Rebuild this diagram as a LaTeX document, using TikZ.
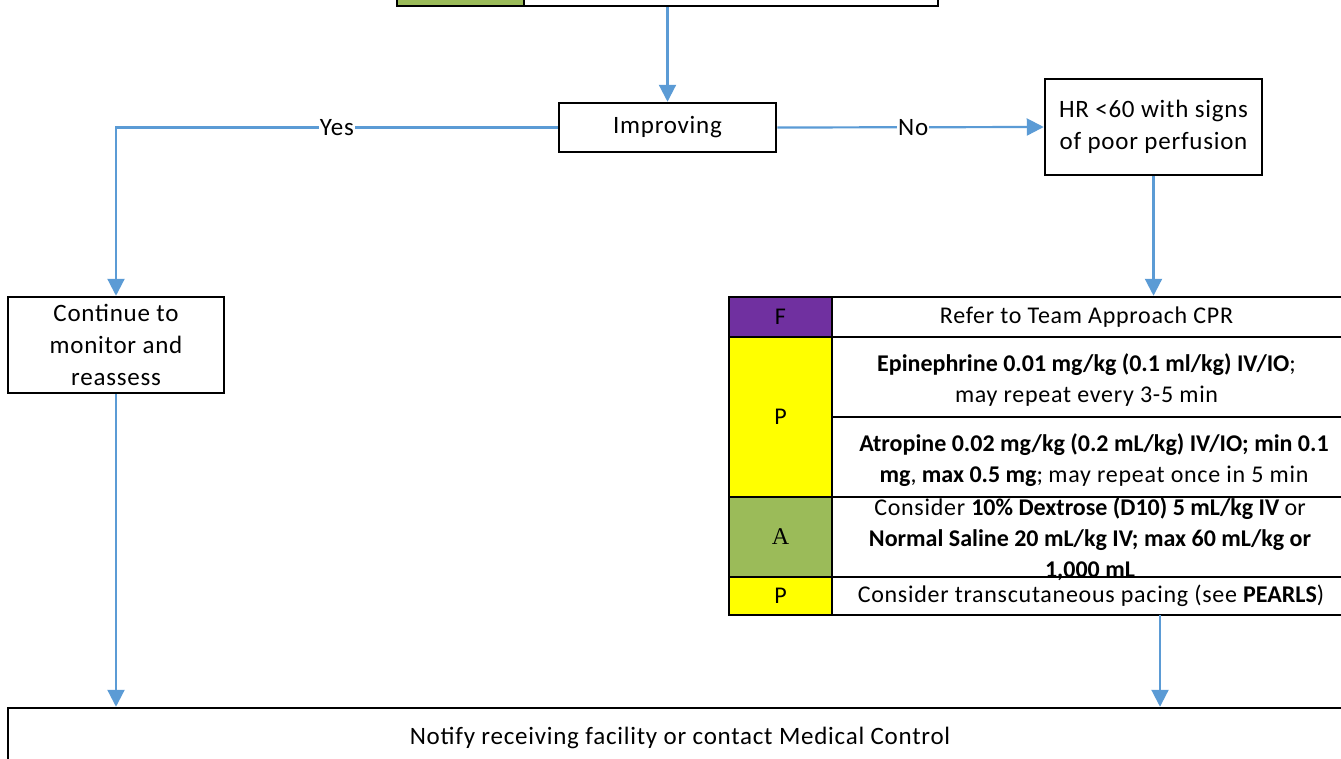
\documentclass[tikz,border=0pt]{standalone}
\usepackage{fontspec}
\setmainfont{Carlito}
\newfontfamily\serifA{Liberation Serif}
\usetikzlibrary{arrows.meta}
\definecolor{arrowblue}{HTML}{5B9BD5}
\definecolor{cellpurple}{HTML}{7030A0}
\definecolor{cellgreen}{HTML}{9BBB59}
\definecolor{cellyellow}{HTML}{FFFF00}
\begin{document}
\begin{tikzpicture}[x=1pt,y=-1pt,
  box/.style={draw=black, line width=2.5pt, fill=white, align=center, inner sep=0pt,
    font=\fontsize{25}{32}\selectfont\addfontfeatures{LetterSpace=3}},
  cell/.style={draw=black, line width=2.5pt, inner sep=0pt},
  ctext/.style={align=center, inner sep=0pt, font=\fontsize{24}{31}\selectfont},
  conn/.style={draw=arrowblue, line width=2.2pt},
  arr/.style={conn, -{Triangle[length=17pt,width=17pt]}},
  lbl/.style={fill=white, inner sep=1pt, font=\fontsize{25}{28}\selectfont\addfontfeatures{LetterSpace=3}}]
\useasboundingbox (0,0) rectangle (1341,758);
\clip (0,0) rectangle (1341,758);
% top box (cut off)
\node[cell, fill=cellgreen, minimum width=127pt, minimum height=46pt] (topg) at (460.5,-17) {};
\node[cell, fill=white, minimum width=414pt, minimum height=46pt] (top) at (731,-17) {};
% decision and boxes
\node[box, minimum width=217pt, minimum height=49pt] (imp) at (667.5,127.5) {Improving};
\node[box, minimum width=217pt, minimum height=96pt] (hr) at (1153.5,127) {HR <60 with signs\\of poor perfusion};
\node[box, minimum width=216pt, minimum height=96pt] (cont) at (116,345) {Continue to\\monitor and\\reassess};
% table cells (right column runs past the right edge)
\node[cell, fill=cellpurple, minimum width=103pt, minimum height=40pt] (fl) at (780.5,317) {};
\node[cell, fill=white, minimum width=515pt, minimum height=40pt] (fr) at (1089.5,317) {};
\node[cell, fill=cellyellow, minimum width=103pt, minimum height=160pt] (pl) at (780.5,417) {};
\node[cell, fill=white, minimum width=515pt, minimum height=80pt] (epi) at (1089.5,377) {};
\node[cell, fill=white, minimum width=515pt, minimum height=80pt] (atr) at (1089.5,457) {};
\node[cell, fill=cellgreen, minimum width=103pt, minimum height=80pt] (al) at (780.5,537) {};
\node[cell, fill=white, minimum width=515pt, minimum height=80pt] (ar) at (1089.5,537) {};
\node[cell, fill=cellyellow, minimum width=103pt, minimum height=38pt] (pl2) at (780.5,596) {};
\node[cell, fill=white, minimum width=515pt, minimum height=38pt] (pr2) at (1089.5,596) {};
% table texts
\node[ctext] (tf) at (fl) {F};
\node[ctext, font=\fontsize{24}{31}\selectfont\addfontfeatures{LetterSpace=3}] (tfr) at (1086.5,317) {Refer to Team Approach CPR};
\node[ctext] (tp) at (pl) {P};
\node[ctext] (tepi) at (1086.5,380) {\textbf{Epinephrine 0.01 mg/kg (0.1 ml/kg) IV/IO}; \\ {\addfontfeatures{LetterSpace=3}may repeat every 3-5 min}};
\node[ctext] (tatr) at (1094,460) {\textbf{Atropine 0.02 mg/kg (0.2 mL/kg) IV/IO; min 0.1}\\ \textbf{mg}, \textbf{max 0.5 mg}; {\addfontfeatures{LetterSpace=3}may repeat once in 5 min}};
\node[ctext, font=\fontsize{24}{28}\serifA] (ta) at (al) {A};
\node[ctext] (tar) at (1090,539) {{\addfontfeatures{LetterSpace=3}Consider} \textbf{10\% Dextrose (D10) 5 mL/kg IV} or\\ \textbf{Normal Saline 20 mL/kg IV; max 60 mL/kg or}\\ \textbf{1,000 mL}};
\node[ctext] (tp2) at (pl2) {P};
\node[ctext] (tpr2) at (1091,596) {{\addfontfeatures{LetterSpace=3}Consider transcutaneous pacing (see} \textbf{PEARLS})};
% bottom box
\node[box, minimum width=1340pt, minimum height=60pt] (bot) at (678,738) {};
\node[inner sep=0pt, font=\fontsize{25}{32}\selectfont\addfontfeatures{LetterSpace=3}] (bottxt) at (680,738) {Notify receiving facility or contact Medical Control};
% connectors
\coordinate (tb) at (1160,615);
\draw[arr] (imp.north |- top.south) -- (imp.north);
\draw[arr] (imp.west) -| (cont.north) node[lbl, pos=0.25] {Yes};
\draw[arr] (imp.east) -- (hr.west) node[lbl, pos=0.51] {No};
\draw[arr] (hr.south) -- (hr.south |- fr.north);
\draw[arr] (cont.south) -- (cont.south |- bot.north);
\draw[arr] (tb) -- (tb |- bot.north);
\end{tikzpicture}
\end{document}
